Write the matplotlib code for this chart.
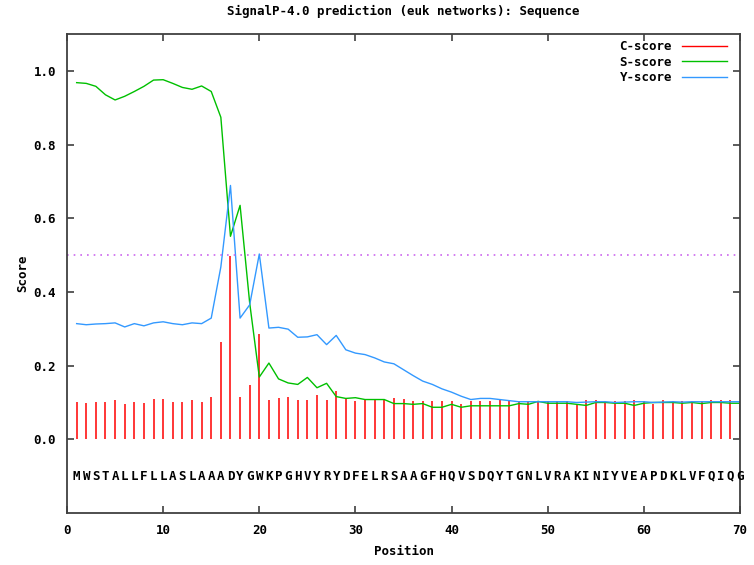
import matplotlib
matplotlib.use('Agg')
import matplotlib.pyplot as plt
from matplotlib.lines import Line2D
import numpy as np

# Sequence and per-position scores (positions 1..70)
sequence = 'MWSTALLFLLASLAAADYGWKPGHVYRYDFELRSAAGFHQVSDQYTGNLVRAKINIYVEAPDKLVFQIQG'
positions = np.arange(1, 71)

c_score = [0.102, 0.099, 0.102, 0.102, 0.106, 0.097, 0.102, 0.099, 0.109, 0.109,
           0.102, 0.102, 0.106, 0.102, 0.115, 0.264, 0.497, 0.115, 0.148, 0.286,
           0.108, 0.113, 0.115, 0.106, 0.106, 0.119, 0.106, 0.132, 0.109, 0.105,
           0.108, 0.108, 0.108, 0.113, 0.110, 0.105, 0.105, 0.105, 0.103, 0.103,
           0.096, 0.105, 0.105, 0.105, 0.108, 0.105, 0.103, 0.103, 0.105, 0.105,
           0.105, 0.105, 0.096, 0.108, 0.108, 0.105, 0.103, 0.103, 0.108, 0.103,
           0.096, 0.108, 0.105, 0.105, 0.103, 0.105, 0.108, 0.108, 0.108, 0.103]

s_score = [0.968, 0.966, 0.958, 0.935, 0.921, 0.931, 0.944, 0.958, 0.975, 0.976,
           0.966, 0.955, 0.950, 0.959, 0.944, 0.874, 0.551, 0.635, 0.370, 0.169,
           0.207, 0.164, 0.153, 0.149, 0.168, 0.140, 0.152, 0.116, 0.111, 0.113,
           0.108, 0.108, 0.108, 0.097, 0.097, 0.095, 0.097, 0.087, 0.087, 0.095,
           0.087, 0.091, 0.091, 0.091, 0.091, 0.091, 0.097, 0.095, 0.103, 0.098,
           0.098, 0.098, 0.095, 0.092, 0.100, 0.100, 0.098, 0.098, 0.092, 0.098,
           0.100, 0.100, 0.100, 0.098, 0.100, 0.097, 0.100, 0.100, 0.098, 0.098]

y_score = [0.314, 0.311, 0.313, 0.314, 0.316, 0.305, 0.314, 0.308, 0.316, 0.319,
           0.314, 0.311, 0.316, 0.314, 0.329, 0.468, 0.689, 0.329, 0.365, 0.503,
           0.302, 0.304, 0.299, 0.277, 0.278, 0.284, 0.257, 0.282, 0.243, 0.234,
           0.230, 0.221, 0.210, 0.205, 0.189, 0.173, 0.158, 0.149, 0.137, 0.128,
           0.117, 0.108, 0.111, 0.111, 0.108, 0.105, 0.102, 0.102, 0.102, 0.102,
           0.102, 0.102, 0.100, 0.101, 0.102, 0.102, 0.100, 0.101, 0.102, 0.102,
           0.100, 0.101, 0.102, 0.101, 0.102, 0.102, 0.102, 0.102, 0.102, 0.102]

cutoff = 0.5

x_ticks = [0, 10, 20, 30, 40, 50, 60, 70]
y_ticks = [0.0, 0.2, 0.4, 0.6, 0.8, 1.0]

red = '#ff0000'
green = '#00c000'
blue = '#3399ff'
font = dict(family='DejaVu Sans Mono', fontweight='bold', fontsize=9)

fig = plt.figure(figsize=(7.54, 5.65), dpi=100)
ax = fig.add_axes([0.0889, 0.092, 0.8925, 0.8478])

ax.vlines(positions, 0, c_score, color=red, lw=1.1)
ax.plot(positions, s_score, color=green, lw=1.0)
ax.plot(positions, y_score, color=blue, lw=1.0)
ax.axhline(cutoff, color='#cc66ee', lw=1.2, ls=(0, (1, 3)))

for i, aa in zip(positions, sequence):
    ax.text(i, -0.1, aa, ha='center', va='center', **font)

ax.set_xlim(0, 70)
ax.set_ylim(-0.2, 1.1)
ax.set_xticks(x_ticks)
ax.set_xticklabels([str(t) for t in x_ticks], **font)
ax.set_yticks(y_ticks)
ax.set_yticklabels(['%.1f' % t for t in y_ticks], **font)
ax.tick_params(direction='in', length=5, width=1.2, color='#404040',
               top=True, right=True, pad=8)
for sp in ax.spines.values():
    sp.set_color('#404040')
    sp.set_linewidth(1.3)

ax.set_xlabel('Position', labelpad=6, **font)
ax.set_ylabel('Score', labelpad=3, **font)
ax.set_title('SignalP-4.0 prediction (euk networks): Sequence', pad=14, **font)

handles = [Line2D([], [], color=red, lw=1.0),
           Line2D([], [], color=green, lw=1.0),
           Line2D([], [], color=blue, lw=1.0)]
ax.legend(handles, ['C-score', 'S-score', 'Y-score'], loc='upper right',
          frameon=False, markerfirst=False, handlelength=3.6,
          labelspacing=0.2, borderaxespad=0.1, bbox_to_anchor=(0.99, 1.0),
          prop={'family': 'DejaVu Sans Mono', 'weight': 'bold', 'size': 9})

plt.savefig('out.png', dpi=100)
